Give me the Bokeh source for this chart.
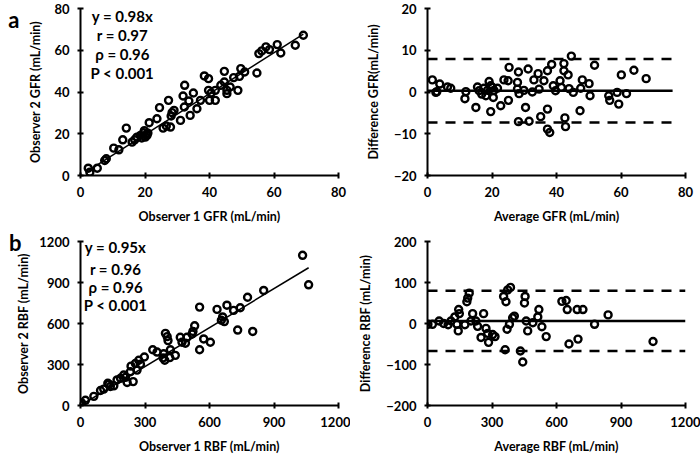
from bokeh.plotting import figure
from bokeh.layouts import gridplot
from bokeh.models import Range1d, Label, FixedTicker, LinearAxis
from bokeh.embed import file_html
from bokeh.resources import INLINE

FONT = "Lato"

# ---------------- data ----------------
gfr_obs1 = [2.4, 2.9, 5.2, 7.5, 8.0, 10.3, 11.9, 13.1, 14.2, 16.0, 16.8, 17.5, 18.6, 19.6,
            20.6, 20.1, 20.9, 21.3, 23.7, 24.5, 25.6, 26.6, 27.3, 27.9, 28.1, 29.0, 28.4,
            31.0, 31.8, 32.3, 32.2, 33.6, 34.0, 35.0, 36.1, 37.2, 38.4, 39.7, 39.7, 40.0,
            40.5, 41.8, 41.8, 43.5, 44.6, 44.6, 45.4, 45.4, 46.4, 47.5, 48.8, 49.3, 49.7,
            50.9, 54.7, 55.3, 56.2, 57.5, 58.6, 61.0, 62.1, 66.6, 69.1, 19.0, 19.8, 20.4]
gfr_obs2 = [3.5, 1.6, 3.5, 7.2, 8.0, 13.1, 12.3, 17.1, 22.7, 16.0, 17.1, 18.4, 19.2, 20.5,
            19.2, 18.4, 20.3, 25.3, 27.2, 32.5, 22.7, 23.7, 36.0, 23.2, 28.5, 31.2, 30.1,
            26.4, 38.1, 43.2, 32.8, 35.7, 28.8, 39.5, 32.0, 36.0, 47.7, 46.4, 40.8, 36.0,
            39.5, 40.8, 36.0, 43.2, 44.8, 49.9, 40.8, 39.2, 42.4, 46.9, 40.8, 47.5, 51.2,
            49.6, 49.1, 58.4, 59.7, 61.6, 60.3, 62.7, 58.7, 62.4, 67.2, 18.0, 21.5, 19.5]
gfr_slope = 0.98
gfr_stats = ["y = 0.98x", "r = 0.97", "\u03c1 = 0.96", "P < 0.001"]

gfr_avg = [1.5, 2.6, 2.9, 3.8, 6.2, 7.2, 11.9, 11.6, 15.0, 15.5, 16.0, 16.8, 17.5, 18.1,
           18.6, 19.1, 19.6, 19.6, 20.1, 20.4, 20.6, 21.7, 22.7, 23.7, 25.0, 25.3, 25.1,
           27.9, 27.9, 28.2, 28.2, 28.4, 29.9, 30.4, 31.2, 31.5, 32.5, 33.0, 34.3, 34.6,
           35.1, 36.1, 37.2, 37.2, 37.2, 37.9, 38.5, 39.0, 39.7, 41.1, 41.5, 42.3, 42.3,
           42.6, 42.8, 43.6, 43.9, 44.6, 45.2, 47.3, 47.5, 48.0, 50.1, 50.4, 51.8, 56.2,
           56.5, 58.8, 59.3, 60.1, 61.7, 64.0, 67.8]
gfr_diff = [2.9, -0.1, 0.1, 1.9, 1.2, 0.9, 0.1, -1.6, -3.7, 1.2, 0.3, -0.5, 0.9, -0.9,
            0.4, 2.5, -4.7, 1.5, 1.1, -1.3, 0.4, 0.9, -3.3, 2.9, 2.7, 5.9, -2.0,
            2.3, 0.7, 4.8, -7.1, -0.4, 0.4, -3.7, 5.5, -7.0, 0.0, 2.9, 4.4, 0.7,
            -5.9, 2.7, 5.1, -4.1, -8.9, -9.7, 6.6, 1.5, 0.3, 2.7, 1.1, 6.8, 5.1,
            -6.2, -8.3, 4.1, 0.8, 8.6, -0.1, -4.5, 0.9, 2.9, 2.0, -0.9, 6.4, -0.9,
            -2.0, -0.1, -2.9, 4.1, -0.4, 5.2, 3.2]
gfr_mean_diff = 0.3
gfr_upper_loa = 7.9
gfr_lower_loa = -7.3
gfr_ba_xmax = 76

rbf_obs1 = [0, 5, 23, 62, 93, 108, 127, 132, 139, 155, 170, 186, 201, 209, 217, 232, 235,
            245, 255, 263, 271, 279, 297, 336, 356, 384, 392, 387, 395, 403, 407, 415, 418,
            441, 464, 472, 488, 495, 519, 523, 531, 554, 554, 573, 604, 635, 655, 661, 669,
            681, 712, 731, 743, 777, 801, 852, 1033, 1061]
rbf_obs2 = [7, 19, 38, 67, 110, 120, 163, 156, 139, 144, 187, 199, 223, 206, 168, 247, 288,
            175, 307, 259, 331, 302, 355, 408, 391, 348, 331, 379, 528, 504, 475, 350, 408,
            367, 499, 463, 456, 499, 523, 542, 583, 720, 408, 487, 463, 703, 624, 648, 614,
            734, 696, 552, 715, 792, 542, 842, 1099, 883]
rbf_slope = 0.95
rbf_stats = ["y = 0.95x", "r = 0.96", "\u03c1 = 0.96", "P < 0.001"]

rbf_avg = [2, 23, 54, 75, 96, 109, 127, 137, 145, 148, 143, 174, 187, 194, 202, 210, 225,
           233, 249, 261, 272, 280, 284, 303, 314, 183, 354, 365, 373, 386, 370, 381, 361,
           396, 404, 432, 443, 451, 454, 459, 466, 490, 518, 513, 532, 552, 625, 645, 650,
           658, 696, 700, 723, 777, 840, 1049]
rbf_diff = [-2, -2, 6, 0, -3, 6, 16, -2, 34, 24, -18, -3, 62, 74, 6, 24, 6,
            -7, -34, 24, -12, -24, -46, -27, -32, 53, 66, 53, 82, 88, -14, -2, -64,
            14, 18, -67, -94, 50, 66, 6, -18, 2, 34, 16, -8, -32, 54, 56, 34,
            -50, 34, -38, 34, -2, 21, -44]
rbf_mean_diff = 6
rbf_upper_loa = 80
rbf_lower_loa = -67
rbf_ba_xmax = 1200

# ---------------- styling helpers ----------------
W, H = 350, 228
FW = 258


def make_fig(xr, yr, xticks, yticks, xlabel, ylabel, left, top, fh, ylab_standoff=10):
    p = figure(width=W, height=H, output_backend="svg", toolbar_location=None,
               x_range=Range1d(*xr), y_range=Range1d(*yr),
               min_border_left=left, min_border_right=W - left - FW,
               min_border_top=top, min_border_bottom=H - top - fh,
               x_axis_label=xlabel, y_axis_label=ylabel)
    p.outline_line_color = None
    p.grid.visible = False
    p.xaxis.ticker = FixedTicker(ticks=xticks)
    p.yaxis.ticker = FixedTicker(ticks=yticks)
    for ax in (p.xaxis[0], p.yaxis[0]):
        ax.axis_line_width = 2
        ax.axis_line_color = "black"
        ax.major_tick_line_width = 2
        ax.major_tick_line_color = "black"
        ax.major_tick_in = 3
        ax.major_tick_out = 3
        ax.minor_tick_line_color = None
        ax.major_label_text_font = FONT
        ax.major_label_text_font_style = "bold"
        ax.major_label_text_font_size = "13px"
        ax.major_label_text_color = "black"
        ax.axis_label_text_font = FONT
        ax.axis_label_text_font_style = "bold"
        ax.axis_label_text_font_size = "12.5px"
        ax.axis_label_text_color = "black"
    p.xaxis.major_label_standoff = 8
    p.xaxis.axis_label_standoff = 9
    p.yaxis.major_label_standoff = 8
    p.yaxis.axis_label_standoff = ylab_standoff
    return p


def add_points(p, x, y):
    p.scatter(x, y, marker="circle", size=7, line_width=2.4, line_color="black",
              fill_alpha=0)


def add_stats(p, lines, xc, ys):
    for t, yy in zip(lines, ys):
        p.add_layout(Label(x=xc, y=yy, text=t, text_align="center", text_baseline="middle",
                           text_font=FONT, text_font_style="bold", text_font_size="15px",
                           text_color="black"))


def add_letter(p, letter, yval, standoff):
    # panel letter drawn as the only tick label of an outer, line-less left axis
    ax = LinearAxis(ticker=FixedTicker(ticks=[yval]),
                    major_label_overrides={yval: letter},
                    axis_line_color=None, major_tick_line_color=None,
                    minor_tick_line_color=None, major_tick_in=0, major_tick_out=0,
                    major_label_standoff=standoff,
                    major_label_text_font=FONT, major_label_text_font_style="bold",
                    major_label_text_font_size="22px", major_label_text_color="black")
    p.add_layout(ax, "left")


def add_ba_lines(p, mean, up, lo, xmax):
    p.line([0, xmax], [mean, mean], line_width=2.5, line_color="black")
    p.line([0, xmax], [up, up], line_width=2.5, line_color="black", line_dash="10 8")
    p.line([0, xmax], [lo, lo], line_width=2.5, line_color="black", line_dash="10 8")


# ---------------- panel a ----------------
p1 = make_fig((0, 80), (0, 80), [0, 20, 40, 60, 80], [0, 20, 40, 60, 80],
              "Observer 1 GFR (mL/min)", "Observer 2 GFR (mL/min)", 80, 8, 167,
              ylab_standoff=8)
add_points(p1, gfr_obs1, gfr_obs2)
fx = [min(gfr_obs1), max(gfr_obs1)]
p1.line(fx, [gfr_slope * v for v in fx], line_width=1.5, line_color="black")
add_stats(p1, gfr_stats, 13, [76.6, 67.5, 58.0, 48.9])
add_letter(p1, "a", 80, 6)

p2 = make_fig((0, 80), (-20, 20), [0, 20, 40, 60, 80], [-20, -10, 0, 10, 20],
              "Average GFR (mL/min)", "Difference GFR(mL/min)", 77, 8, 167)
add_ba_lines(p2, gfr_mean_diff, gfr_upper_loa, gfr_lower_loa, gfr_ba_xmax)
add_points(p2, gfr_avg, gfr_diff)

# ---------------- panel b ----------------
p3 = make_fig((0, 1200), (0, 1200), [0, 300, 600, 900, 1200], [0, 300, 600, 900, 1200],
              "Observer 1 RBF (mL/min)", "Observer 2 RBF (mL/min)", 80, 13, 166,
              ylab_standoff=5)
add_points(p3, rbf_obs1, rbf_obs2)
fx = [min(rbf_obs1), max(rbf_obs1)]
p3.line(fx, [rbf_slope * v for v in fx], line_width=1.5, line_color="black")
add_stats(p3, rbf_stats, 163, [1163, 1000, 865, 737])
add_letter(p3, "b", 1200, -8)

p4 = make_fig((0, 1200), (-200, 200), [0, 300, 600, 900, 1200], [-200, -100, 0, 100, 200],
              "Average RBF (mL/min)", "Difference RBF (mL/min)", 77, 13, 166)
add_ba_lines(p4, rbf_mean_diff, rbf_upper_loa, rbf_lower_loa, rbf_ba_xmax)
add_points(p4, rbf_avg, rbf_diff)

grid = gridplot([[p1, p2], [p3, p4]], toolbar_location=None)

open("out.html", "w").write(file_html(grid, INLINE))
